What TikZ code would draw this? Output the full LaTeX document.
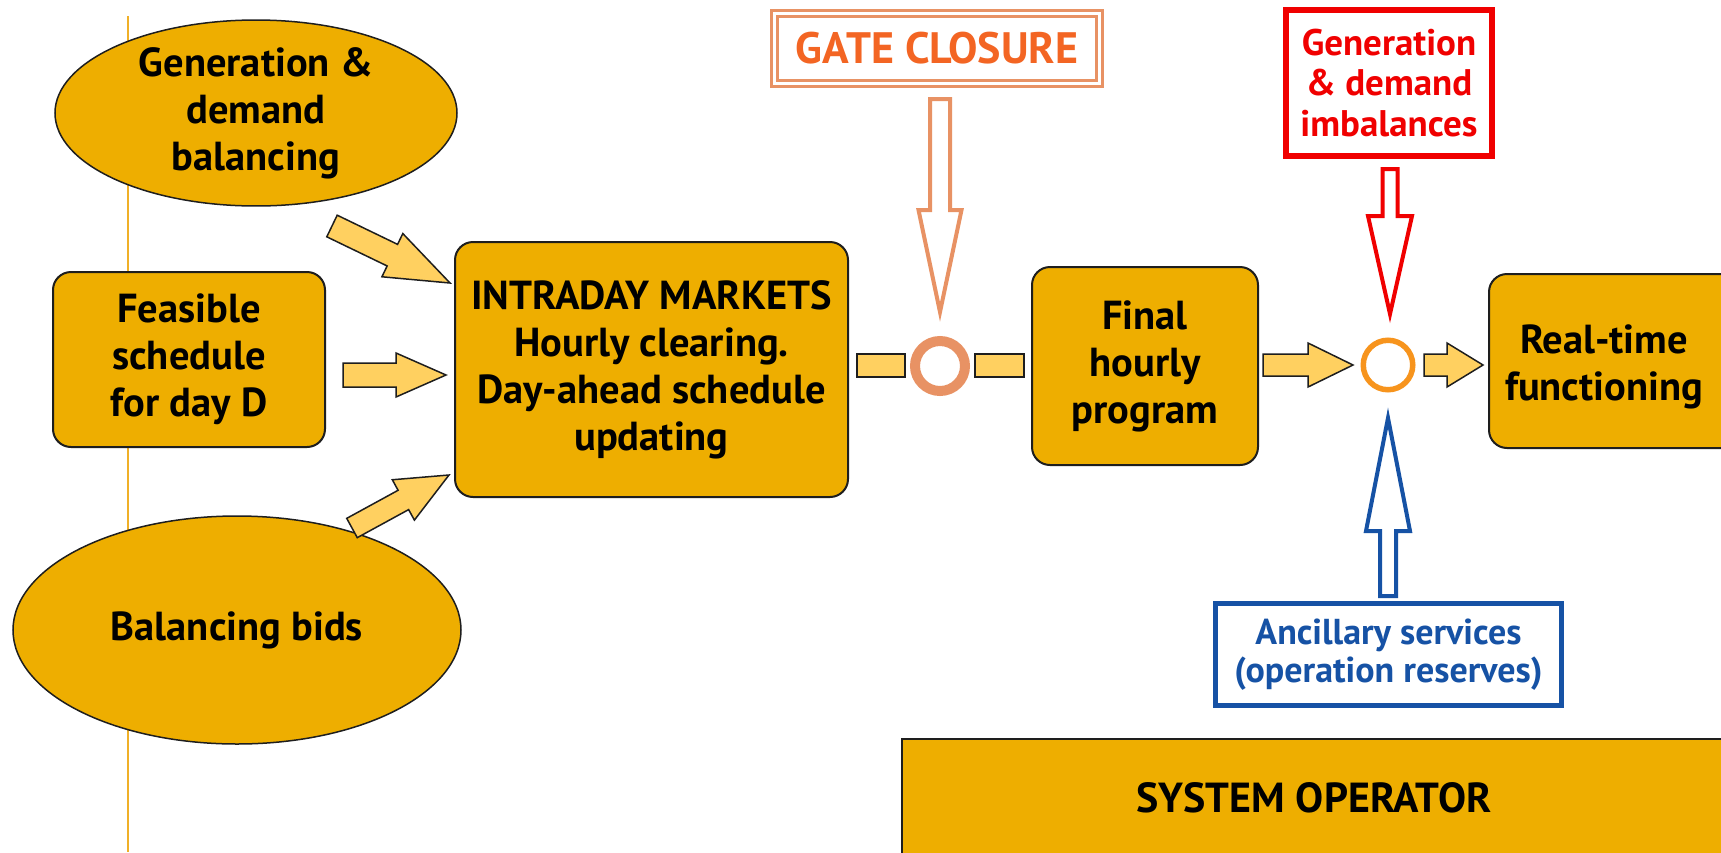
\documentclass[tikz,border=0pt]{standalone}
\usepackage{fontspec}
\setmainfont{PT Sans}
\usetikzlibrary{calc,shapes.geometric}
\definecolor{boxfill}{RGB}{238,174,0}
\definecolor{arrfill}{RGB}{255,208,96}
\definecolor{edgecol}{RGB}{30,30,30}
\definecolor{salmon}{RGB}{232,146,100}
\definecolor{gatetxt}{RGB}{243,101,35}
\definecolor{ringor}{RGB}{247,148,29}
\definecolor{imbred}{RGB}{240,0,0}
\definecolor{ancblue}{RGB}{22,82,165}
\definecolor{vlinecol}{RGB}{240,176,40}
\newcommand{\blkarrow}[6]{%
  \coordinate (bkH) at ($(#3)!#6!(#2)$);
  \draw[#1] ($(#2)!#4!90:(#3)$) -- ($(bkH)!#4!90:(#3)$) -- ($(bkH)!#5!90:(#3)$) -- (#3)
    -- ($(bkH)!#5!-90:(#3)$) -- ($(bkH)!#4!-90:(#3)$) -- ($(#2)!#4!-90:(#3)$) -- cycle;}
\tikzset{
  bigtxt/.style={font=\bfseries\fontsize{40.5}{47}\selectfont},
  basebox/.style={draw=edgecol, line width=2pt, fill=boxfill, rounded corners=18pt,
    align=center, inner sep=0pt, bigtxt},
  oval/.style={ellipse, draw=edgecol, line width=1.5pt, fill=boxfill, align=center,
    inner sep=0pt, bigtxt},
  yarrow/.style={draw=edgecol, line width=1.5pt, fill=arrfill, line join=miter},
  bar/.style={draw=edgecol, line width=1.5pt, fill=arrfill, inner sep=0pt},
  ring/.style={circle, fill=white, inner sep=0pt},
  hollow/.style={line width=4pt, fill=white, line join=miter},
  vline/.style={draw=vlinecol, line width=1.5pt}
}
\begin{document}
\begin{tikzpicture}[x=1pt,y=-1pt]
\useasboundingbox (0,0) rectangle (1721,852);
\clip (0,0) rectangle (1721,852);
\fill[white] (0,0) rectangle (1721,852);
% vertical line
\coordinate (vtop) at (128,16);
\coordinate (vbot) at (128,852);
\draw[vline] (vtop) -- (vbot);
% left inputs
\node[oval, minimum width=402pt, minimum height=184pt] (gdb) at (256,113) {Generation \&\\demand\\balancing};
\node[basebox, minimum width=272pt, minimum height=175pt] (feas) at (189,359.5) {Feasible\\schedule\\for day D};
\node[oval, minimum width=448pt, minimum height=228pt] (bids) at (237,630) {Balancing bids};
% main boxes
\node[basebox, minimum width=393pt, minimum height=255pt] (intra) at (651.5,369.5) {INTRADAY MARKETS\\Hourly clearing.\\Day-ahead schedule\\updating};
\node[basebox, minimum width=226pt, minimum height=198pt] (final) at (1145,366) {Final\\hourly\\program};
\path[draw=edgecol, line width=2pt, fill=boxfill, rounded corners=18pt] (1489,274) rectangle (1760,448);
\node[align=center, inner sep=0pt, bigtxt] (rt) at (1604,367) {Real-time\\functioning};
\node[draw=edgecol, line width=2pt, fill=boxfill, minimum width=824pt, minimum height=118pt, inner sep=0pt,
  font=\bfseries\fontsize{42}{48}\selectfont] (so) at (1314,798) {SYSTEM OPERATOR};
% label boxes
\node[draw=salmon, double=white, line width=3pt, double distance=3pt, minimum width=325pt, minimum height=70pt,
  inner sep=0pt, text=gatetxt, font=\bfseries\fontsize{44}{50}\selectfont] (gate) at (937,48) {GATE CLOSURE};
\node[draw=imbred, line width=6pt, minimum width=206pt, minimum height=146pt, inner sep=0pt, align=center,
  text=imbred, font=\bfseries\fontsize{37}{40.6}\selectfont] (imb) at (1389,83) {Generation\\\& demand\\imbalances};
\node[draw=ancblue, line width=5pt, minimum width=346pt, minimum height=102pt, inner sep=0pt, align=center,
  text=ancblue, font=\bfseries\fontsize{36}{38}\selectfont] (anc) at (1388.5,654.5) {Ancillary services\\(operation reserves)};
% rings and bars
\node[ring, draw=salmon, line width=10pt, minimum size=50pt] (c1) at (940,366) {};
\node[ring, draw=ringor, line width=5.5pt, minimum size=49.5pt] (c2) at (1388,365) {};
\node[bar, minimum width=48pt, minimum height=23pt] (bar1) at (881,365.5) {};
\node[bar, minimum width=49pt, minimum height=23pt] (bar2) at (999.5,365.5) {};
% yellow block arrows
\coordinate (a1s) at (332,226);  \coordinate (a1e) at (450,283);
\coordinate (a2s) at (343,375);  \coordinate (a2e) at (446,375);
\coordinate (a3s) at (352,528);  \coordinate (a3e) at (449,475);
\coordinate (a4s) at (1263,365); \coordinate (a4e) at (1353,365);
\coordinate (a5s) at (1424,365); \coordinate (a5e) at (1483,365);
\blkarrow{yarrow}{a1s}{a1e}{12pt}{24pt}{64pt}
\blkarrow{yarrow}{a2s}{a2e}{12pt}{22pt}{50pt}
\blkarrow{yarrow}{a3s}{a3e}{11pt}{23pt}{52pt}
\blkarrow{yarrow}{a4s}{a4e}{11pt}{22pt}{45pt}
\blkarrow{yarrow}{a5s}{a5e}{11pt}{22pt}{36pt}
% hollow arrows
\coordinate (g1) at (940,99);   \coordinate (g2) at (940,312);
\coordinate (r1) at (1390,169); \coordinate (r2) at (1390,314);
\coordinate (b1) at (1388,596); \coordinate (b2) at (1388,418);
\blkarrow{hollow, draw=salmon}{g1}{g2}{10pt}{21.5pt}{102pt}
\blkarrow{hollow, draw=imbred}{r1}{r2}{7.5pt}{22pt}{98pt}
\blkarrow{hollow, draw=ancblue}{b1}{b2}{8pt}{22pt}{113pt}
\end{tikzpicture}
\end{document}
